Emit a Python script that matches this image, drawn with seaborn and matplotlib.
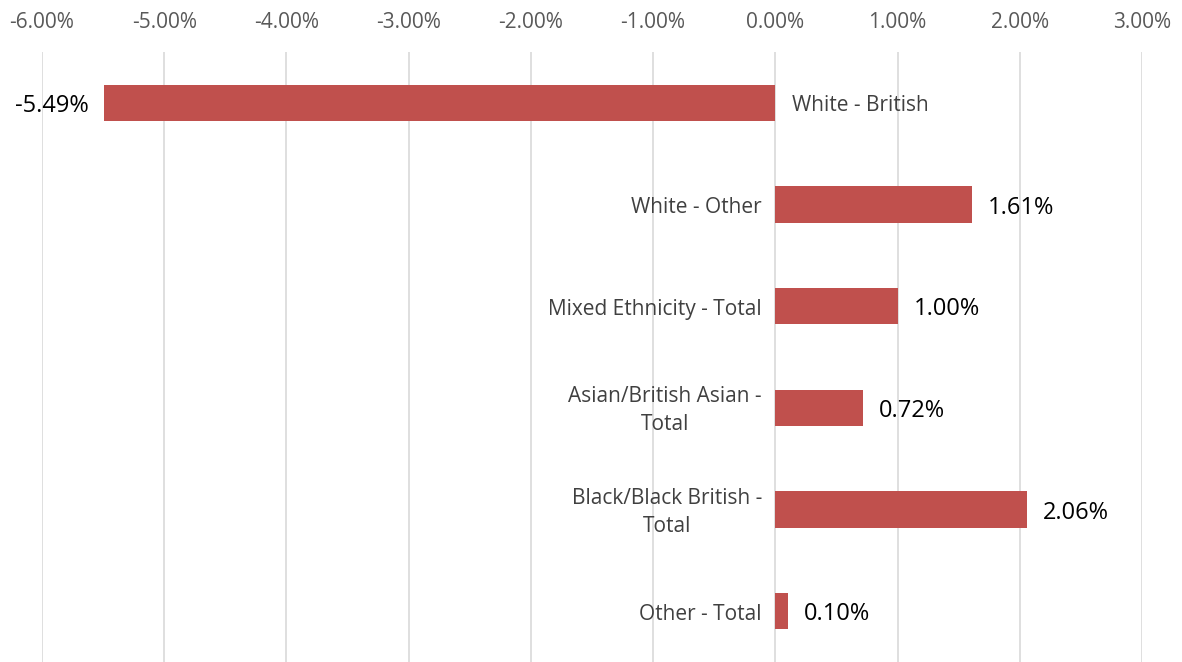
import matplotlib
matplotlib.use("Agg")
import matplotlib.pyplot as plt
import seaborn as sns
import pandas as pd
from matplotlib.ticker import FuncFormatter, FixedLocator

categories = ["White - British", "White - Other", "Mixed Ethnicity - Total",
              "Asian/British Asian -\nTotal", "Black/Black British -\nTotal", "Other - Total"]
values = [-5.49, 1.61, 1.00, 0.72, 2.06, 0.10]
xticks = [-6, -5, -4, -3, -2, -1, 0, 1, 2, 3]

sns.set_theme(style="white")
plt.rcParams['font.family'] = ['Open Sans', 'DejaVu Sans']

df = pd.DataFrame({"cat": categories, "val": values})

fig = plt.figure(figsize=(11.82, 6.62), dpi=100)
ax = fig.add_axes([42/1182, 0, 1100/1182, 1 - 52/662])
sns.barplot(data=df, x="val", y="cat", orient="h", color="#C0504D",
            width=0.36, saturation=1, ax=ax, zorder=3, linewidth=0)

ax.set_xlim(-6, 3)
ax.set_ylim(5.5, -0.5)
ax.xaxis.set_major_locator(FixedLocator(xticks))
ax.xaxis.set_major_formatter(FuncFormatter(lambda v, p: f"{v:.2f}%"))
ax.xaxis.tick_top()
ax.tick_params(axis="x", length=0, pad=14, labelsize=15, labelcolor="#595959")
ax.set_yticks([])
ax.set_xlabel("")
ax.set_ylabel("")
ax.grid(axis="x", color="#D9D9D9", linewidth=1.2, zorder=0)
for s in ax.spines.values():
    s.set_visible(False)

for i, (c, v) in enumerate(zip(categories, values)):
    if v >= 0:
        ax.text(-0.11, i + 0.03, c, ha="right", va="center", fontsize=15,
                color="#404040", linespacing=1.45, multialignment="center")
        ax.text(v + 0.13, i + 0.03, f"{v:.2f}%", ha="left", va="center",
                fontsize=17, color="black")
    else:
        ax.text(0.14, i + 0.03, c, ha="left", va="center", fontsize=15,
                color="#404040")
        ax.text(v - 0.13, i + 0.03, f"{v:.2f}%", ha="right", va="center",
                fontsize=17, color="black")

fig.savefig("out.png", dpi=100)
